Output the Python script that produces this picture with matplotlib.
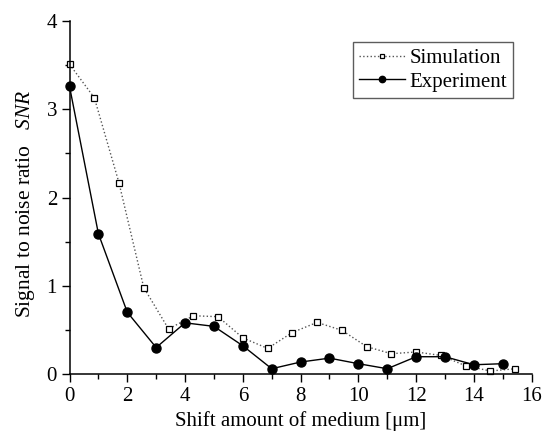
import matplotlib
matplotlib.use("Agg")
import matplotlib.pyplot as plt

plt.rcParams['font.family'] = ['Liberation Serif', 'DejaVu Serif']
plt.rcParams['mathtext.fontset'] = 'custom'
plt.rcParams['mathtext.rm'] = 'Liberation Serif'
plt.rcParams['mathtext.it'] = 'Liberation Serif:italic'

sim_x = [0.0, 0.86, 1.71, 2.57, 3.43, 4.29, 5.14, 6.0, 6.86, 7.71,
         8.57, 9.43, 10.29, 11.14, 12.0, 12.86, 13.71, 14.57, 15.43]
sim_y = [3.51, 3.13, 2.17, 0.98, 0.51, 0.66, 0.65, 0.41, 0.29, 0.47,
         0.585, 0.495, 0.31, 0.23, 0.25, 0.21, 0.094, 0.034, 0.06]

exp_x = [0, 1, 2, 3, 4, 5, 6, 7, 8, 9, 10, 11, 12, 13, 14, 15]
exp_y = [3.26, 1.59, 0.70, 0.30, 0.58, 0.54, 0.32, 0.06, 0.136, 0.18,
         0.117, 0.06, 0.196, 0.196, 0.105, 0.117]

x_ticks = [0, 2, 4, 6, 8, 10, 12, 14, 16]
y_ticks = [0, 1, 2, 3, 4]

fig = plt.figure(figsize=(5.46, 4.34), dpi=100)
ax = fig.add_axes([0.1273, 0.1382, 0.8465, 0.8134])

ax.plot(sim_x, sim_y, linestyle=':', color='#555555', linewidth=1.0,
        marker='s', markersize=5, markerfacecolor='white',
        markeredgecolor='black', markeredgewidth=0.9, label='Simulation', clip_on=False)
ax.plot(exp_x, exp_y, linestyle='-', color='black', linewidth=1.0,
        marker='o', markersize=6.5, markerfacecolor='black',
        markeredgecolor='black', label='Experiment', clip_on=False)

ax.set_xlim(0, 16)
ax.set_ylim(0, 4)
ax.set_xticks(x_ticks)
ax.set_yticks(y_ticks)
ax.set_xticks([1, 3, 5, 7, 9, 11, 13, 15], minor=True)
ax.set_yticks([0.5, 1.5, 2.5, 3.5], minor=True)
ax.tick_params(which='major', direction='out', length=6, width=1, labelsize=15, pad=3)
ax.tick_params(which='minor', direction='out', length=3.5, width=1)

for s in ['top', 'right']:
    ax.spines[s].set_visible(False)
for s in ['left', 'bottom']:
    ax.spines[s].set_linewidth(1.1)

ax.set_xlabel('Shift amount of medium [μm]', fontsize=15, labelpad=4)
ax.set_ylabel(r'Signal to noise ratio   $\mathit{SNR}$', fontsize=15.5)
ax.yaxis.set_label_coords(-0.07, 0.482)

leg = ax.legend(loc='upper right', bbox_to_anchor=(0.96, 0.94), fontsize=15,
                frameon=True, fancybox=False, edgecolor='#333333',
                handlelength=2.2, handletextpad=0.2, borderpad=0.3,
                labelspacing=0.2, borderaxespad=0, markerscale=0.7)
leg.get_frame().set_linewidth(1.0)

fig.savefig('out.png', dpi=100)
